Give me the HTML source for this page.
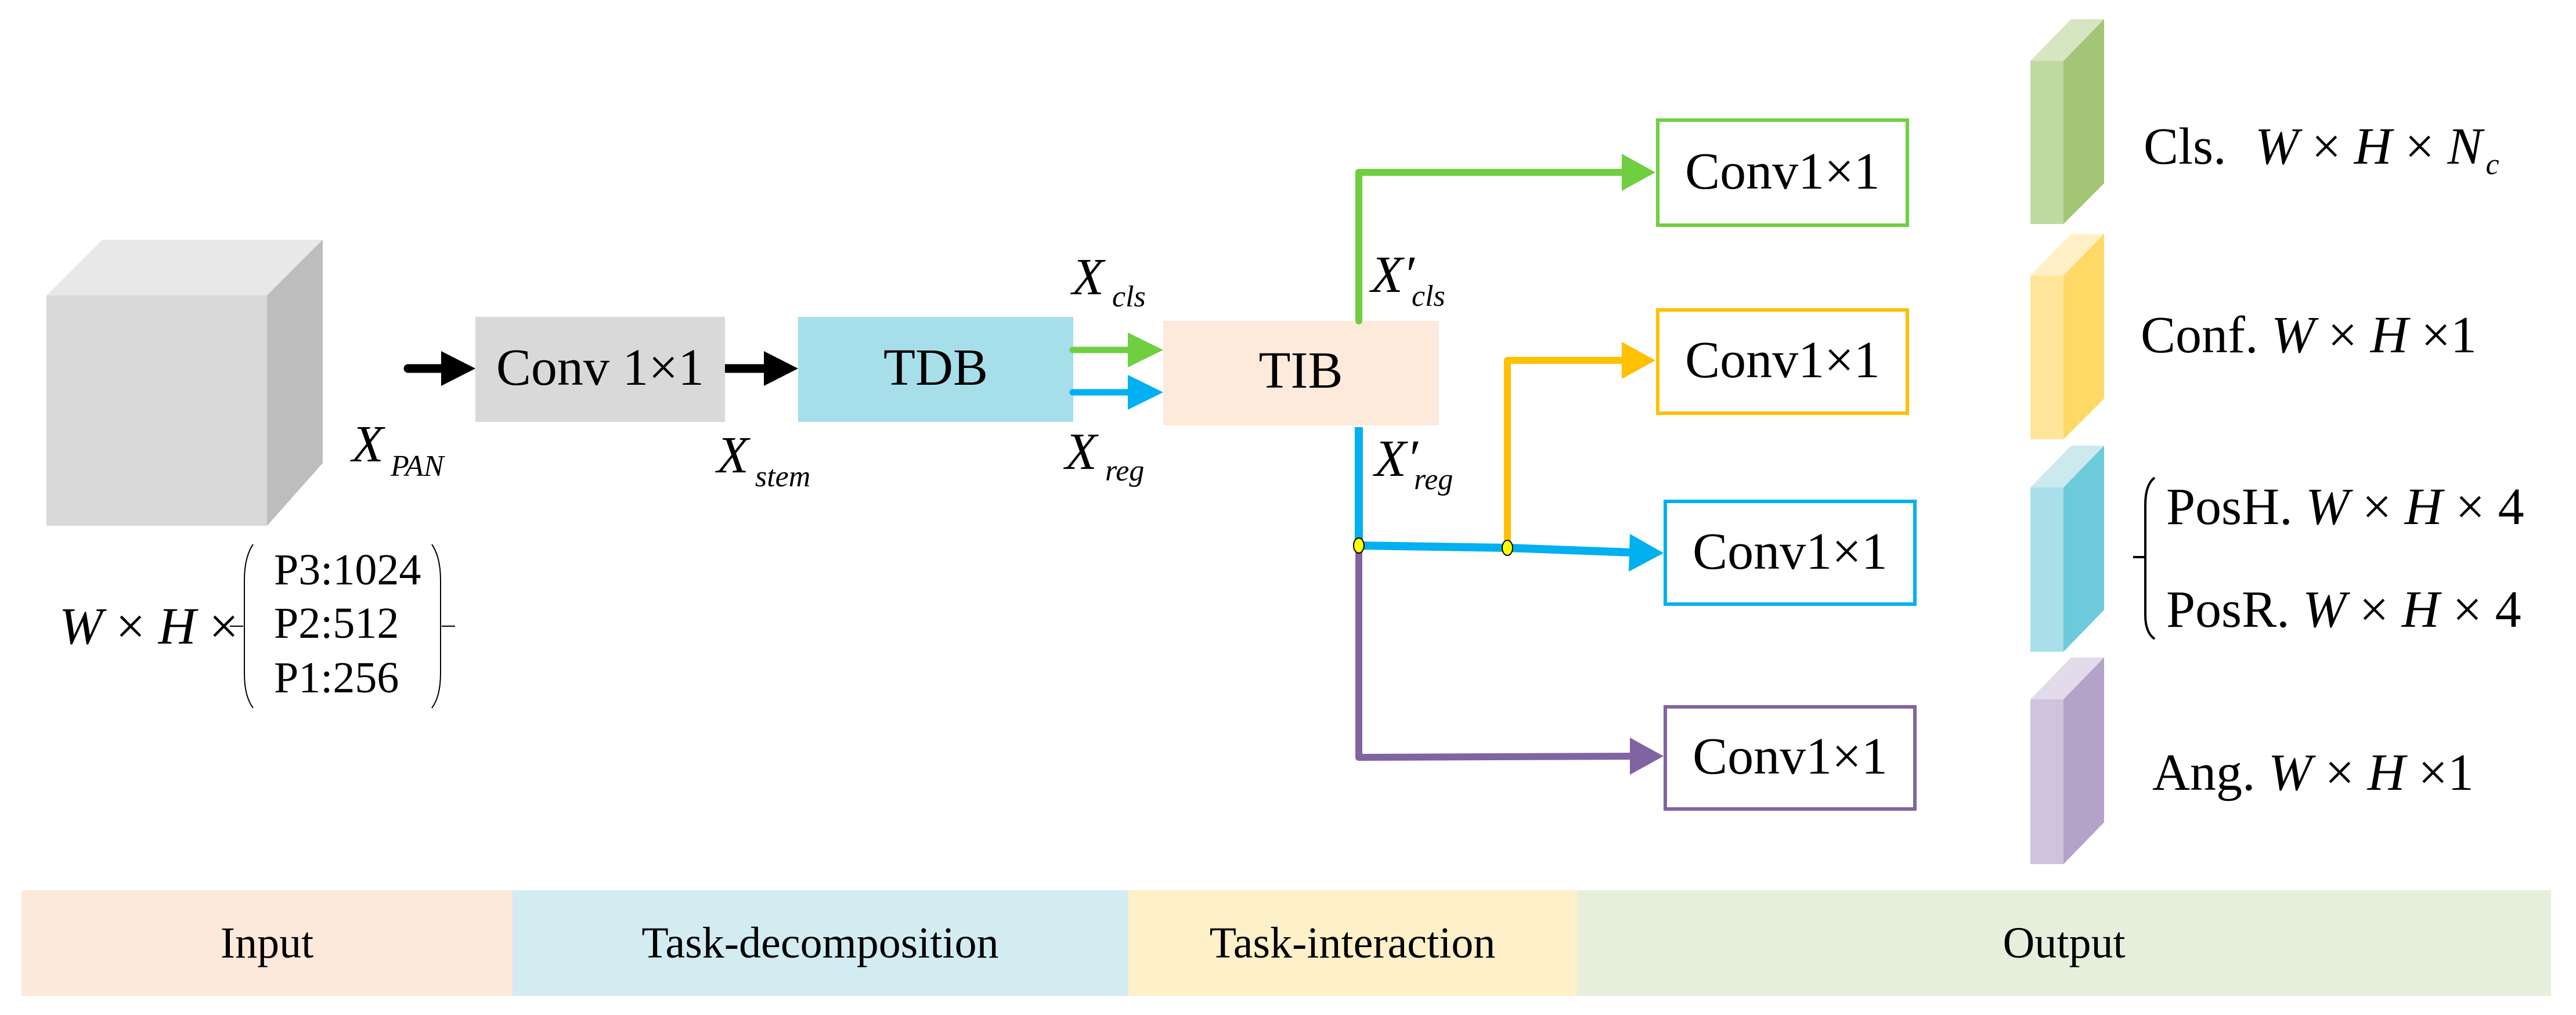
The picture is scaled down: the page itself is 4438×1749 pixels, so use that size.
<!DOCTYPE html>
<html><head><meta charset="utf-8"><style>
html,body{margin:0;padding:0;background:#fff;}
svg{display:block;font-family:"Liberation Serif","Times New Roman",Times,"DejaVu Serif",serif;}
svg text{font-family:"Liberation Serif","Times New Roman",Times,"DejaVu Serif",serif;fill:#000;}
.i{font-style:italic;}
</style></head><body>
<svg width="4438" height="1749" viewBox="0 0 4438 1749" xmlns="http://www.w3.org/2000/svg" font-family="Liberation Serif, Times New Roman, serif">
<polygon points="80,509 176,413 556,413 460,509" fill="#e8e8e8"/>
<polygon points="460,509 556,413 556,798 460,906" fill="#bdbdbd"/>
<rect x="80" y="509" width="380" height="397" fill="#d9d9d9"/>

<line x1="703" y1="635" x2="765" y2="635" stroke="#000" stroke-width="15" stroke-linecap="round"/>
<polygon points="760,605 819,635 760,665" fill="#000"/>
<line x1="1250" y1="635" x2="1320" y2="635" stroke="#000" stroke-width="15" stroke-linecap="round"/>
<polygon points="1316,605 1375,635 1316,665" fill="#000"/>

<rect x="819" y="546" width="430" height="181" fill="#d9d9d9"/>
<text x="1034" y="663" font-size="90" text-anchor="middle">Conv 1×1</text>
<rect x="1375" y="546" width="474" height="181" fill="#a6dfea"/>
<text x="1612" y="663" font-size="90" text-anchor="middle">TDB</text>

<line x1="1848" y1="603" x2="1950" y2="603" stroke="#70cf40" stroke-width="11" stroke-linecap="round"/>
<polygon points="1943,573 2004,603 1943,633" fill="#70cf40"/>
<line x1="1848" y1="676" x2="1950" y2="676" stroke="#00b0f0" stroke-width="11" stroke-linecap="round"/>
<polygon points="1943,646 2004,676 1943,706" fill="#00b0f0"/>

<rect x="2004" y="553" width="475" height="180" fill="#fdeadb"/>
<text x="2241" y="668" font-size="90" text-anchor="middle">TIB</text>

<text x="606" y="795" font-size="90" class="i">X</text><text x="673" y="820" font-size="52" class="i">PAN</text>
<text x="1235" y="814" font-size="90" class="i">X</text><text x="1301" y="838" font-size="52" class="i">stem</text>
<text x="1847" y="507" font-size="90" class="i">X</text><text x="1916" y="528" font-size="52" class="i">cls</text>
<text x="1835" y="808" font-size="90" class="i">X</text><text x="1904" y="828" font-size="52" class="i">reg</text>
<text x="2362" y="503" font-size="90" class="i">X′</text><text x="2432" y="527" font-size="52" class="i">cls</text>
<text x="2368" y="820" font-size="90" class="i">X′</text><text x="2436" y="843" font-size="52" class="i">reg</text>

<polyline points="2341,553 2341,297 2800,297" fill="none" stroke="#70cf40" stroke-width="12" stroke-linecap="round" stroke-linejoin="round"/>
<polygon points="2794,265 2852,297 2794,329" fill="#70cf40"/>
<polyline points="2597,944 2597,621 2800,621" fill="none" stroke="#ffc000" stroke-width="12" stroke-linejoin="round"/>
<polygon points="2794,589 2852,621 2794,653" fill="#ffc000"/>
<polyline points="2341,940 2341,1305 2810,1303" fill="none" stroke="#8064a2" stroke-width="12" stroke-linejoin="round"/>
<polygon points="2808,1271 2866,1303 2808,1335" fill="#8064a2"/>
<polyline points="2341,736 2341,940 2597,944 2812,952" fill="none" stroke="#00b0f0" stroke-width="14" stroke-linejoin="round"/>
<polygon points="2808,920 2866,953 2806,985" fill="#00b0f0"/>
<ellipse cx="2341" cy="940" rx="9" ry="13" fill="#ffff00" stroke="#000" stroke-width="2"/>
<ellipse cx="2597" cy="944" rx="9" ry="13" fill="#ffff00" stroke="#000" stroke-width="2"/>

<rect x="2856" y="207" width="430" height="181" fill="#fff" stroke="#70cf40" stroke-width="6"/>
<text x="3071" y="325" font-size="90" text-anchor="middle">Conv1×1</text>
<rect x="2856" y="534" width="430" height="178" fill="#fff" stroke="#ffc000" stroke-width="6"/>
<text x="3071" y="650" font-size="90" text-anchor="middle">Conv1×1</text>
<rect x="2869" y="864" width="430" height="177" fill="#fff" stroke="#00b0f0" stroke-width="6"/>
<text x="3084" y="980" font-size="90" text-anchor="middle">Conv1×1</text>
<rect x="2869" y="1218" width="430" height="176" fill="#fff" stroke="#8064a2" stroke-width="6"/>
<text x="3084" y="1333" font-size="90" text-anchor="middle">Conv1×1</text>

<polygon points="3498,105 3555,105 3625,33 3568,33" fill="#d6e6c2"/>
<polygon points="3555,105 3625,33 3625,316 3555,386" fill="#a3c676"/>
<rect x="3498" y="105" width="57" height="281" fill="#c0d9a0"/>
<polygon points="3498,475 3555,475 3625,403 3568,403" fill="#fff0c8"/>
<polygon points="3555,475 3625,403 3625,687 3555,757" fill="#ffd966"/>
<rect x="3498" y="475" width="57" height="282" fill="#fee599"/>
<polygon points="3498,840 3555,840 3625,768 3568,768" fill="#cde9f0"/>
<polygon points="3555,840 3625,768 3625,1051 3555,1123" fill="#6ccadb"/>
<rect x="3498" y="840" width="57" height="283" fill="#a8dfe9"/>
<polygon points="3498,1205 3555,1205 3625,1133 3568,1133" fill="#e2dbea"/>
<polygon points="3555,1205 3625,1133 3625,1417 3555,1489" fill="#b4a2c9"/>
<rect x="3498" y="1205" width="57" height="284" fill="#d0c3dd"/>

<text x="3693" y="282" font-size="90">Cls.</text>
<text x="3885" y="282" font-size="90"><tspan class="i">W</tspan> × <tspan class="i">H</tspan> × <tspan class="i">N</tspan><tspan class="i" font-size="52" dx="6" dy="18">c</tspan></text>
<text x="3688" y="607" font-size="90">Conf. <tspan class="i">W</tspan> × <tspan class="i">H</tspan> ×1</text>
<text x="3732" y="903" font-size="90">PosH. <tspan class="i">W</tspan> × <tspan class="i">H</tspan> × 4</text>
<text x="3732" y="1080" font-size="90">PosR. <tspan class="i">W</tspan> × <tspan class="i">H</tspan> × 4</text>
<path d="M3712,823 Q3696,835 3696,870 L3696,1060 Q3696,1090 3712,1101" fill="none" stroke="#000" stroke-width="4"/>
<line x1="3675" y1="960" x2="3696" y2="960" stroke="#000" stroke-width="4"/>
<text x="3708" y="1361" font-size="90">Ang. <tspan class="i">W</tspan> × <tspan class="i">H</tspan> ×1</text>

<text x="102" y="1109" font-size="90"><tspan class="i">W</tspan> × <tspan class="i">H</tspan> ×</text>
<line x1="396" y1="1079" x2="419" y2="1079" stroke="#000" stroke-width="2"/>
<path d="M436,938 Q421,960 421,1000 L421,1160 Q421,1200 436,1220" fill="none" stroke="#000" stroke-width="2"/>
<path d="M744,938 Q759,960 759,1000 L759,1160 Q759,1200 744,1220" fill="none" stroke="#000" stroke-width="2"/>
<line x1="761" y1="1079" x2="784" y2="1079" stroke="#000" stroke-width="2"/>
<text x="472" y="1007" font-size="76">P3:1024</text>
<text x="472" y="1099" font-size="76">P2:512</text>
<text x="472" y="1193" font-size="76">P1:256</text>

<rect x="37" y="1534" width="846" height="182" fill="#fde9da"/>
<rect x="883" y="1534" width="1061" height="182" fill="#d2ecf2"/>
<rect x="1944" y="1534" width="773" height="182" fill="#fef0c8"/>
<rect x="2717" y="1534" width="1678" height="182" fill="#e6efdb"/>
<text x="460" y="1650" font-size="76" text-anchor="middle">Input</text>
<text x="1413" y="1650" font-size="76" text-anchor="middle">Task-decomposition</text>
<text x="2330" y="1650" font-size="76" text-anchor="middle">Task-interaction</text>
<text x="3556" y="1650" font-size="76" text-anchor="middle">Output</text>
</svg>
</body></html>
